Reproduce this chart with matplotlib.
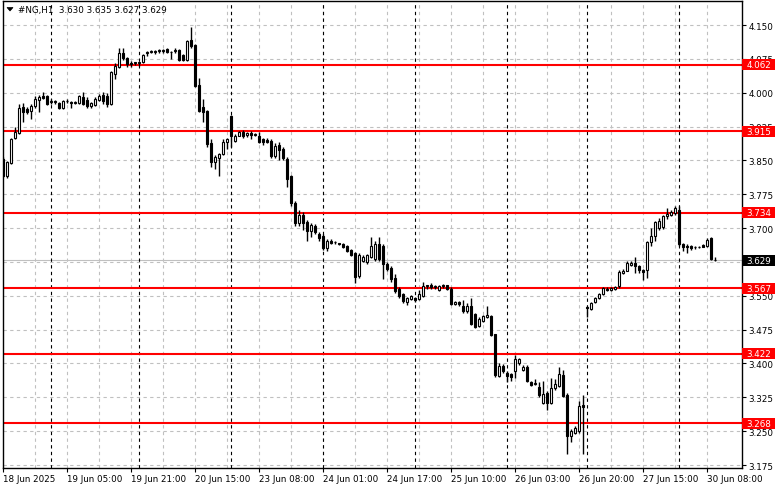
import matplotlib
matplotlib.use("Agg")
import matplotlib.pyplot as plt
import matplotlib.transforms as mtransforms
from matplotlib.patches import Rectangle, Polygon

# hourly candles, #NG H1, 18 Jun - 30 Jun 2025
opens = [3.853, 3.815, 3.844, 3.899, 3.911, 3.968, 3.963, 3.960, 3.970, 3.984,
         3.993, 3.993, 3.979, 3.980, 3.978, 3.966, 3.981, 3.979, 3.978, 3.978,
         3.990, 3.983, 3.970, 3.973, 3.984, 3.996, 3.993, 3.976, 4.042, 4.058,
         4.087, 4.077, 4.066, 4.066, 4.066, 4.068, 4.089, 4.090, 4.091, 4.092,
         4.092, 4.096, 4.091, 4.092, 4.094, 4.084, 4.073, 4.117, 4.106, 4.017,
         3.968, 3.959, 3.888, 3.846, 3.855, 3.864, 3.891, 3.948, 3.893, 3.905,
         3.912, 3.906, 3.911, 3.907, 3.904, 3.897, 3.896, 3.893, 3.860, 3.884,
         3.875, 3.853, 3.815, 3.755, 3.711, 3.730, 3.714, 3.694, 3.705, 3.688,
         3.683, 3.655, 3.672, 3.669, 3.666, 3.665, 3.660, 3.652, 3.645, 3.594,
         3.628, 3.625, 3.637, 3.632, 3.665, 3.660, 3.620, 3.612, 3.589, 3.566,
         3.554, 3.537, 3.543, 3.545, 3.543, 3.550, 3.571, 3.575, 3.570, 3.562,
         3.574, 3.573, 3.566, 3.532, 3.536, 3.527, 3.516, 3.527, 3.510, 3.483,
         3.494, 3.503, 3.505, 3.465, 3.373, 3.395, 3.380, 3.376, 3.383, 3.400,
         3.386, 3.393, 3.359, 3.355, 3.348, 3.313, 3.334, 3.313, 3.345, 3.350,
         3.375, 3.330, 3.240, 3.247, 3.250, 3.307, 3.525, 3.521, 3.537, 3.546,
         3.555, 3.566, 3.563, 3.565, 3.571, 3.600, 3.606, 3.618, 3.623, 3.615,
         3.607, 3.607, 3.669, 3.682, 3.700, 3.703, 3.727, 3.730, 3.733, 3.740,
         3.665, 3.661, 3.660, 3.657, 3.657, 3.663, 3.660, 3.677, 3.630]
highs = [3.858, 3.848, 3.900, 3.924, 3.975, 3.977, 3.968, 3.975, 3.993, 3.996,
         4.002, 3.996, 3.985, 3.984, 3.980, 3.984, 3.985, 3.982, 3.981, 3.995,
         4.001, 3.990, 3.979, 3.990, 3.997, 4.001, 4.000, 4.048, 4.065, 4.099,
         4.099, 4.080, 4.070, 4.068, 4.069, 4.086, 4.093, 4.095, 4.094, 4.096,
         4.097, 4.098, 4.093, 4.099, 4.097, 4.086, 4.116, 4.145, 4.108, 4.033,
         3.986, 3.962, 3.897, 3.862, 3.866, 3.897, 3.900, 3.950, 3.908, 3.915,
         3.918, 3.913, 3.915, 3.910, 3.912, 3.900, 3.899, 3.897, 3.888, 3.890,
         3.880, 3.858, 3.817, 3.760, 3.740, 3.735, 3.718, 3.712, 3.708, 3.692,
         3.686, 3.676, 3.676, 3.672, 3.668, 3.667, 3.662, 3.654, 3.648, 3.645,
         3.640, 3.643, 3.680, 3.672, 3.680, 3.665, 3.624, 3.615, 3.598, 3.569,
         3.556, 3.548, 3.552, 3.548, 3.562, 3.580, 3.575, 3.578, 3.574, 3.575,
         3.577, 3.575, 3.569, 3.538, 3.538, 3.540, 3.535, 3.544, 3.512, 3.503,
         3.508, 3.528, 3.508, 3.466, 3.400, 3.398, 3.383, 3.379, 3.418, 3.412,
         3.397, 3.396, 3.362, 3.365, 3.360, 3.362, 3.340, 3.368, 3.365, 3.392,
         3.386, 3.335, 3.255, 3.262, 3.316, 3.330, 3.527, 3.536, 3.548, 3.557,
         3.569, 3.569, 3.570, 3.572, 3.608, 3.610, 3.628, 3.628, 3.635, 3.618,
         3.610, 3.672, 3.700, 3.716, 3.723, 3.730, 3.745, 3.740, 3.748, 3.748,
         3.668, 3.664, 3.662, 3.660, 3.661, 3.665, 3.678, 3.680, 3.635]
lows = [3.813, 3.812, 3.842, 3.897, 3.908, 3.935, 3.953, 3.942, 3.965, 3.957,
        3.985, 3.972, 3.975, 3.976, 3.964, 3.964, 3.978, 3.967, 3.975, 3.976,
        3.972, 3.966, 3.966, 3.970, 3.982, 3.976, 3.968, 3.973, 4.030, 4.055,
        4.072, 4.058, 4.058, 4.062, 4.060, 4.066, 4.082, 4.087, 4.086, 4.088,
        4.088, 4.088, 4.075, 4.088, 4.070, 4.070, 4.071, 4.100, 4.012, 3.957,
        3.935, 3.880, 3.835, 3.831, 3.815, 3.862, 3.875, 3.880, 3.890, 3.903,
        3.900, 3.902, 3.898, 3.903, 3.888, 3.885, 3.888, 3.855, 3.856, 3.850,
        3.850, 3.790, 3.750, 3.705, 3.705, 3.695, 3.672, 3.680, 3.688, 3.672,
        3.652, 3.650, 3.664, 3.664, 3.662, 3.656, 3.646, 3.638, 3.578, 3.590,
        3.624, 3.620, 3.634, 3.628, 3.628, 3.587, 3.605, 3.580, 3.556, 3.546,
        3.535, 3.530, 3.540, 3.536, 3.540, 3.547, 3.566, 3.565, 3.566, 3.560,
        3.568, 3.563, 3.530, 3.529, 3.528, 3.512, 3.512, 3.486, 3.478, 3.480,
        3.492, 3.500, 3.460, 3.370, 3.370, 3.378, 3.360, 3.362, 3.368, 3.396,
        3.383, 3.358, 3.350, 3.353, 3.326, 3.310, 3.298, 3.310, 3.342, 3.347,
        3.325, 3.199, 3.225, 3.244, 3.245, 3.199, 3.503, 3.518, 3.535, 3.543,
        3.552, 3.560, 3.561, 3.562, 3.567, 3.598, 3.604, 3.615, 3.600, 3.600,
        3.585, 3.590, 3.660, 3.671, 3.695, 3.698, 3.720, 3.726, 3.730, 3.660,
        3.650, 3.645, 3.652, 3.654, 3.655, 3.657, 3.658, 3.629, 3.627]
closes = [3.815, 3.846, 3.897, 3.913, 3.966, 3.957, 3.957, 3.971, 3.986, 3.990,
          3.988, 3.975, 3.981, 3.980, 3.966, 3.981, 3.982, 3.977, 3.979, 3.992,
          3.975, 3.970, 3.977, 3.986, 3.993, 3.982, 3.975, 4.045, 4.060, 4.087,
          4.077, 4.064, 4.064, 4.066, 4.067, 4.083, 4.090, 4.092, 4.092, 4.094,
          4.095, 4.091, 4.090, 4.095, 4.073, 4.073, 4.114, 4.103, 4.015, 3.959,
          3.957, 3.886, 3.846, 3.857, 3.864, 3.891, 3.897, 3.903, 3.904, 3.912,
          3.905, 3.910, 3.906, 3.908, 3.891, 3.891, 3.891, 3.860, 3.882, 3.873,
          3.855, 3.808, 3.755, 3.712, 3.728, 3.712, 3.694, 3.707, 3.692, 3.677,
          3.656, 3.672, 3.668, 3.670, 3.665, 3.658, 3.649, 3.641, 3.591, 3.641,
          3.637, 3.640, 3.660, 3.665, 3.632, 3.620, 3.609, 3.588, 3.560, 3.550,
          3.539, 3.544, 3.549, 3.541, 3.553, 3.572, 3.573, 3.569, 3.572, 3.571,
          3.571, 3.566, 3.532, 3.536, 3.532, 3.516, 3.527, 3.488, 3.481, 3.499,
          3.505, 3.508, 3.463, 3.374, 3.395, 3.383, 3.373, 3.369, 3.410, 3.409,
          3.393, 3.361, 3.352, 3.355, 3.330, 3.332, 3.313, 3.345, 3.355, 3.377,
          3.328, 3.240, 3.251, 3.258, 3.306, 3.303, 3.522, 3.534, 3.546, 3.555,
          3.567, 3.563, 3.567, 3.569, 3.603, 3.606, 3.622, 3.622, 3.615, 3.607,
          3.602, 3.669, 3.682, 3.713, 3.715, 3.727, 3.731, 3.735, 3.745, 3.664,
          3.657, 3.657, 3.656, 3.657, 3.659, 3.659, 3.674, 3.632, 3.629]

levels = [4.062, 3.915, 3.734, 3.567, 3.422, 3.268]
last_price = 3.629
header = "#NG,H1  3.630 3.635 3.627 3.629"

price_ticks = [3.175, 3.250, 3.325, 3.400, 3.475, 3.550, 3.625,
               3.700, 3.775, 3.850, 3.925, 4.000, 4.075, 4.150]
date_pos = [0, 16, 32, 48, 64, 80, 96, 112, 128, 144, 160, 176]
date_labels = ["18 Jun 2025", "19 Jun 05:00", "19 Jun 21:00", "20 Jun 15:00",
               "23 Jun 08:00", "24 Jun 01:00", "24 Jun 17:00", "25 Jun 10:00",
               "26 Jun 03:00", "26 Jun 20:00", "27 Jun 15:00", "30 Jun 08:00"]
day_starts = [12, 34, 57, 80, 103, 126, 146, 169]

W, H = 781, 489
fs = 6.3
grid_col = '#c0c0c0'

fig = plt.figure(figsize=(W/100, H/100), dpi=100)
fig.patch.set_facecolor('white')
ax = fig.add_axes([2.5/W, 1-469/H, (742-2.5)/W, (469-2)/H])
ax.set_xlim(-0.2, 184.7)
ax.set_ylim(3.1684, 4.2032)

# grid
for p in price_ticks:
    ax.axhline(p, color=grid_col, ls=(0, (3, 3)), lw=0.8, zorder=1)
for i in range(8, 177, 8):
    ax.axvline(i, color=grid_col, ls=(0, (3, 3)), lw=0.8, zorder=1)
for d in day_starts:
    ax.axvline(d, color='black', ls=(0, (3, 3)), lw=0.8, zorder=1.5)

ax.axhline(last_price, color=grid_col, lw=0.8, zorder=1.2)
for lv in levels:
    ax.axhline(lv, color='red', lw=1.5, zorder=2)

# candles
for i in range(len(opens)):
    o, hi, lo, c = opens[i], highs[i], lows[i], closes[i]
    ax.vlines(i, lo, hi, color='black', lw=1, zorder=3)
    fc = 'white' if c >= o else 'black'
    bottom = min(o, c)
    hgt = max(abs(c - o), 0.0012)
    ax.add_patch(Rectangle((i - 0.27, bottom), 0.54, hgt, fc=fc, ec='black',
                           lw=0.8, zorder=4))

# axes / ticks
for s in ax.spines.values():
    s.set_color('black')
    s.set_linewidth(1)
ax.yaxis.tick_right()
ax.set_yticks(price_ticks)
# 3.625 sits fully under the last-price box, so its label is left blank
ax.set_yticklabels(["" if p == 3.625 else "%.3f" % p for p in price_ticks])
ax.tick_params(axis='y', length=3, width=0.8, pad=1.5, labelsize=fs)
ax.set_xticks(date_pos)
ax.set_xticklabels(date_labels)
for lbl in ax.get_xticklabels():
    lbl.set_ha('left')
ax.tick_params(axis='x', length=3, width=0.8, pad=1.5, labelsize=fs)

# price boxes on the right
trans = mtransforms.blended_transform_factory(ax.transAxes, ax.transData)
bw = 33/739.5
bh = 11/451.3
for lv in levels:
    ax.add_patch(Rectangle((1.0, lv - bh/2), bw, bh, transform=trans,
                           fc='red', ec='none', clip_on=False, zorder=6))
    ax.text(1.0 + 4.5/739.5, lv, "%.3f" % lv, transform=trans, color='white',
            fontsize=fs, va='center', ha='left', clip_on=False, zorder=7)
ax.add_patch(Rectangle((1.0, last_price - bh/2), bw, bh, transform=trans,
                       fc='black', ec='none', clip_on=False, zorder=6))
ax.text(1.0 + 4.5/739.5, last_price, "%.3f" % last_price, transform=trans,
        color='white', fontsize=fs, va='center', ha='left', clip_on=False,
        zorder=7)

# header
fig.add_artist(Polygon([(7/W, 1-8.5/H), (13/W, 1-8.5/H), (10/W, 1-12/H)],
                       closed=True, fc='black', ec='black', lw=0.5,
                       transform=fig.transFigure))
fig.text(18/W, 1-10/H, header, fontsize=fs, va='center', ha='left')

fig.savefig('out.png', dpi=100)
